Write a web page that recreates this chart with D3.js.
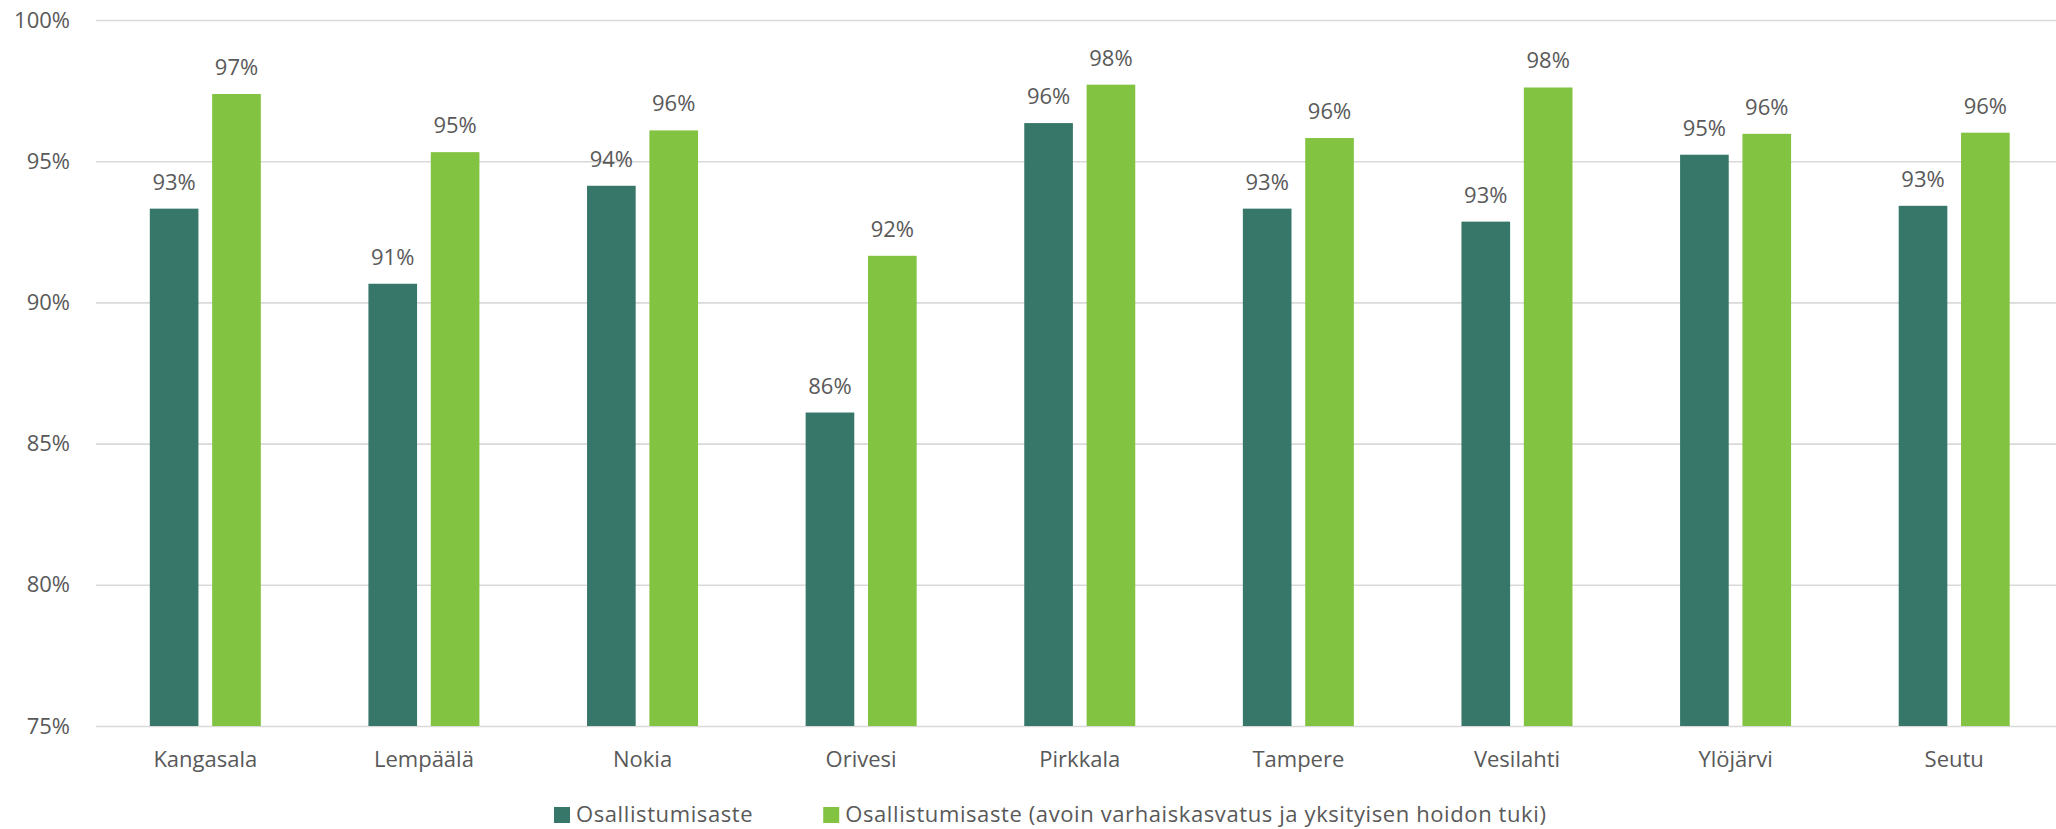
<!DOCTYPE html>
<html>
<head>
<meta charset="utf-8">
<script src="https://cdn.jsdelivr.net/npm/d3@7"></script>
<style>
  body { margin: 0; background: #fff; }
  text { font-family: "Open Sans", sans-serif; fill: #595959; }
</style>
</head>
<body>
<div id="chart"></div>
<script>
// data
const categories = ["Kangasala", "Lempäälä", "Nokia", "Orivesi", "Pirkkala", "Tampere", "Vesilahti", "Ylöjärvi", "Seutu"];
const seriesNames = ["Osallistumisaste", "Osallistumisaste (avoin varhaiskasvatus ja yksityisen hoidon tuki)"];
const osallistumisaste = [93.32, 90.66, 94.13, 86.10, 96.35, 93.32, 92.86, 95.23, 93.42];
const osallistumisasteAvoin = [97.38, 95.32, 96.09, 91.65, 97.71, 95.82, 97.61, 95.97, 96.01];
const yTicks = [75, 80, 85, 90, 95, 100];
const colors = ["#37776a", "#82c341"];

const W = 2056, H = 829;
const margin = {top: 20, right: 0, bottom: 103, left: 96};
const height = H - margin.top - margin.bottom;

const svg = d3.select("#chart")
  .append("svg")
    .attr("width", W)
    .attr("height", H);

const g = svg.append("g")
  .attr("transform", `translate(${margin.left},${margin.top})`);

// scales
const x0 = d3.scaleBand()
  .domain(categories)
  .range([0, 1967.5]);

const x1 = d3.scaleBand()
  .domain(seriesNames)
  .range([0, 111])
  .paddingInner(0.22);

const y = d3.scaleLinear()
  .domain([75, 100])
  .range([height, 0]);

// y axis + gridlines
const yAxis = g.append("g")
  .call(d3.axisLeft(y)
    .tickValues(yTicks)
    .tickSize(-(W - margin.left))
    .tickPadding(26)
    .tickFormat(d => d + "%"));
yAxis.select(".domain").remove();
yAxis.selectAll(".tick line").attr("stroke", "#d9d9d9").attr("stroke-width", 1.6);
yAxis.selectAll(".tick text").style("font-size", "22px").attr("fill", "#595959");

// x axis labels
const xAxis = g.append("g")
  .attr("transform", `translate(0,${height})`)
  .call(d3.axisBottom(x0).tickSize(0).tickPadding(25));
xAxis.select(".domain").remove();
xAxis.selectAll(".tick text").style("font-size", "22px").attr("fill", "#595959");

// rows for grouped bars
const rows = categories.map((c, i) => ({
  cat: c,
  vals: [osallistumisaste[i], osallistumisasteAvoin[i]]
}));

const groups = g.selectAll(".grp")
  .data(rows)
  .join("g")
    .attr("class", "grp")
    .attr("transform", d => `translate(${x0(d.cat) + (x0.bandwidth() - 111) / 2},0)`);

const cells = groups.selectAll(".cell")
  .data(d => d.vals.map((v, k) => ({name: seriesNames[k], v: v, k: k})))
  .join("g")
    .attr("class", "cell");

cells.append("rect")
  .attr("x", d => x1(d.name))
  .attr("y", d => y(d.v))
  .attr("width", x1.bandwidth())
  .attr("height", d => height - y(d.v))
  .attr("fill", d => colors[d.k]);

cells.append("text")
  .attr("x", d => x1(d.name) + x1.bandwidth() / 2)
  .attr("y", d => y(d.v) - 19)
  .attr("text-anchor", "middle")
  .style("font-size", "22px")
  .text(d => Math.round(d.v) + "%");

// legend
const legend = svg.append("g").attr("transform", "translate(554,0)");
let lx = 0;
seriesNames.forEach((name, k) => {
  legend.append("rect")
    .attr("x", lx)
    .attr("y", 807)
    .attr("width", 16)
    .attr("height", 16)
    .attr("fill", colors[k]);
  const t = legend.append("text")
    .attr("x", lx + 22)
    .attr("y", 822)
    .style("font-size", "22px")
    .style("letter-spacing", "0.6px")
    .text(name);
  lx += 22 + t.node().getComputedTextLength() + 70;
});
</script>
</body>
</html>
